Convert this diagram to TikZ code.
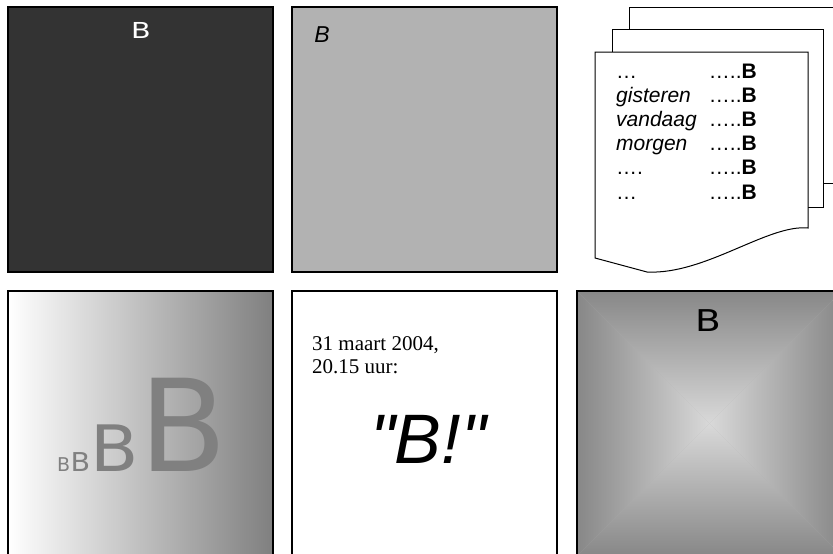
\documentclass[tikz,border=0pt]{standalone}
\usepackage{fontspec}
\setmainfont{Liberation Sans}
\newfontfamily\plainsans{Liberation Sans}
\newfontfamily\vera{DejaVu Sans}
\newfontfamily\romanfont{Liberation Serif}
\usetikzlibrary{positioning}

\tikzset{
  panel/.style={draw=black, line width=1.2pt, minimum width=265pt, minimum height=265pt, inner sep=0pt},
  sheet/.style={draw=black, line width=1pt, fill=white},
  listtext/.style={font=\fontsize{21}{21}\selectfont, inner sep=0pt},
  bigb/.style={font=\vera, text=gray, inner sep=0pt, anchor=base west},
}

\begin{document}
\begin{tikzpicture}[x=1pt, y=-1pt]
    \useasboundingbox (0,0) rectangle (833,554);
    \clip (0,0) rectangle (833,554);
    % top row
    \node[panel, fill=black!80] (dark) at (140.5,139.5) {};
    \node[white, font=\vera\fontsize{22}{22}\selectfont, xscale=1.3, inner sep=0pt, anchor=base] (darkb) at (141,38) {B};
    \node[panel, fill=black!30] (light) at (424.5,139.5) {};
    \node[font=\itshape\fontsize{23}{23}\selectfont, inner sep=0pt, anchor=base] (lightb) at (322,42) {B};
    % stack of pages
    \draw[sheet] (629,7) rectangle (850,183);
    \draw[sheet] (612,29) rectangle (823,207);
    \draw[sheet] (595,52) -- (808,52) -- (808,228) .. controls (768,224) and (705,275) .. (647,272) -- (595,258) -- cycle;
    \foreach \day [count=\i from 0] in {…, \textit{gisteren}, \textit{vandaag}, \textit{morgen}, …., …}
        {\node[listtext, anchor=base west] (day\i) at (616,78+24.2*\i) {\day};
        \node[listtext, anchor=base east] (dots\i) at (757,78+24.2*\i) {…..\textbf{B}};}
    % bottom row
    \node[panel, left color=white, right color=gray] (fade) at (140.5,423.5) {};
    \node[bigb, font=\vera\fontsize{19}{19}\selectfont] (b1) at (57,471) {B};
    \node[bigb, font=\vera\fontsize{26}{26}\selectfont, xscale=1.1] (b2) at (b1.base east) {B};
    \node[bigb, font=\vera\fontsize{64}{64}\selectfont, xscale=1.1] (b3) at (b2.base east) {B};
    \node[bigb, font=\vera\fontsize{128}{128}\selectfont] (b4) at (b3.base east) {B};
    \node[panel, fill=white] (shout) at (424.5,423.5) {};
    \node[font=\romanfont\fontsize{21}{21}\selectfont, inner sep=0pt, anchor=base west] (date) at (312,350) {31 maart 2004,};
    \node[font=\romanfont\fontsize{21}{21}\selectfont, inner sep=0pt, anchor=base west] (time) at ([yshift=-23pt]date.base west) {20.15 uur:};
    \node[font=\plainsans\itshape\fontsize{70}{70}\selectfont, inner sep=0pt, anchor=base] (cry) at (428,463) {"B!"};
    \coordinate (mid) at (709.5,423.5);
    \fill[black!30] (577,291) rectangle (842,556);
    \shade[top color=black!47, bottom color=black!15] (577,291) -- (842,291) -- (mid) -- cycle;
    \shade[bottom color=black!47, top color=black!15] (577,556) -- (842,556) -- (mid) -- cycle;
    \shade[left color=black!47, right color=black!15] (577,291) -- (577,556) -- (mid) -- cycle;
    \shade[right color=black!47, left color=black!15] (842,291) -- (842,556) -- (mid) -- cycle;
    \node[panel] (glow) at (mid) {};
    \node[font=\vera\fontsize{30}{30}\selectfont, xscale=1.25, inner sep=0pt, anchor=base] (glowb) at (708,331) {B};
\end{tikzpicture}
\end{document}
